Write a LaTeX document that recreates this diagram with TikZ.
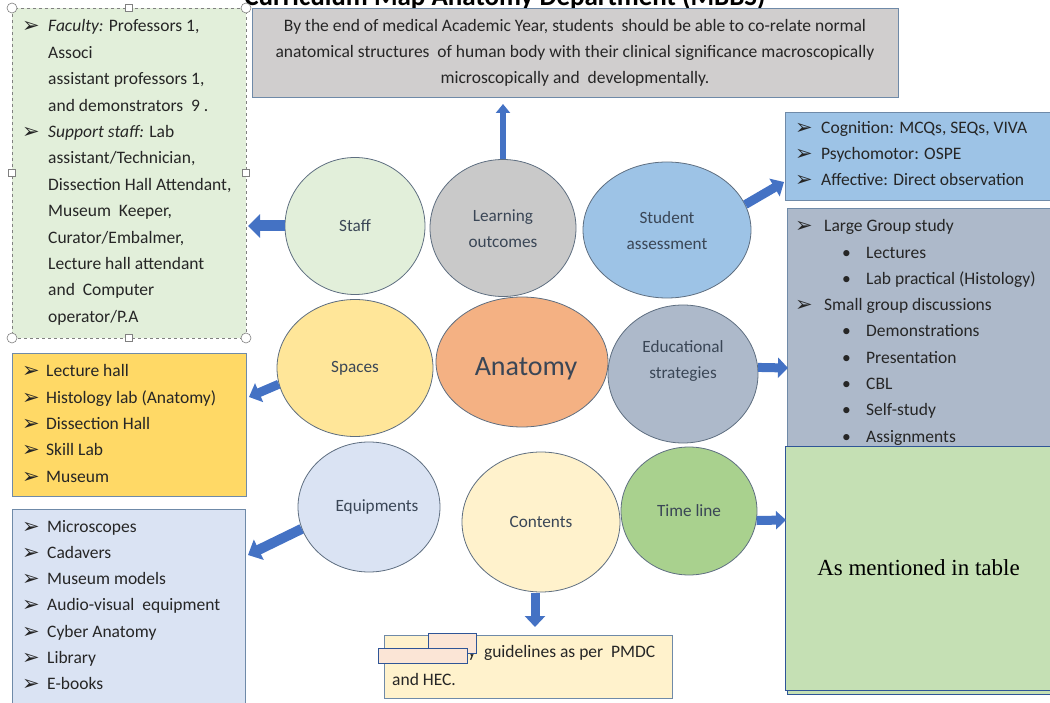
\documentclass[tikz,border=0pt]{standalone}
\usepackage{fontspec}
\setmainfont{Carlito}
\newfontfamily\symfont{DejaVu Sans}
\newfontfamily\tablefont{Liberation Serif}
\usetikzlibrary{shapes.geometric,arrows.meta}

\definecolor{staffgreen}{HTML}{E2EFDA}
\definecolor{logray}{HTML}{D0CECE}
\definecolor{lobubble}{HTML}{C9C9C9}
\definecolor{assessblue}{HTML}{9DC3E6}
\definecolor{spacebubble}{HTML}{FFE699}
\definecolor{spaceyellow}{HTML}{FFD966}
\definecolor{anatomyorange}{HTML}{F4B183}
\definecolor{edugray}{HTML}{ADB9CA}
\definecolor{equipblue}{HTML}{DAE3F3}
\definecolor{contcream}{HTML}{FFF2CC}
\definecolor{timebubble}{HTML}{A9D18E}
\definecolor{timegreen}{HTML}{C5E0B4}
\definecolor{coverpink}{HTML}{FBE5D6}
\definecolor{arrowblue}{HTML}{4472C4}
\definecolor{boxedge}{HTML}{6F8AA8}
\definecolor{deepblue}{HTML}{2F5597}
\definecolor{bubbleedge}{HTML}{5E6E80}
\definecolor{bubbletext}{HTML}{3A4656}
\definecolor{listtext}{HTML}{262626}

\newcommand{\listfont}{\fontsize{17.5}{26}\selectfont}
\newcommand{\bubblefont}{\fontsize{17.2}{26}\selectfont}
\newcommand{\arr}[1][26pt]{\makebox[#1][l]{\symfont\fontsize{21}{21}\selectfont\raisebox{-1pt}{➢}}}
\newcommand{\ind}{\hspace*{26pt}}
\newcommand{\dotb}{\hspace*{47pt}\makebox[24pt][l]{•}}
\newcommand{\lift}[2]{\raisebox{#1}[\height][\depth]{#2}}

\tikzset{
  bubble/.style={ellipse, draw=bubbleedge, line width=0.8pt, inner sep=0pt,
    font=\bubblefont, text=bubbletext, align=center},
  listbox/.style={rectangle, draw=boxedge, line width=0.8pt, inner sep=0pt},
  item/.style={anchor=base west, inner sep=0pt, font=\listfont, text=listtext},
  handle/.style={circle, draw=gray, fill=white, line width=0.6pt, minimum size=10pt, inner sep=0pt},
  sqhandle/.style={rectangle, draw=gray, fill=white, line width=0.6pt, minimum size=7pt, inner sep=0pt},
  blockarrow/.style={draw=arrowblue, line width=11pt, -{Triangle[length=12pt,width=23pt]}},
}

\begin{document}
\begin{tikzpicture}[x=1pt, y=-1pt]
  \useasboundingbox (0,0) rectangle (1050,703);

  \node[anchor=base, inner sep=0pt, font=\bfseries\fontsize{27}{30}\selectfont] (title) at (505,6)
    {Curriculum Map Anatomy Department (MBBS)};

  % boxes
  \node[listbox, fill=logray, minimum width=646, minimum height=89] (lobox) at (575,52.5) {};
  \node[rectangle, draw=gray, dashed, line width=0.7pt, fill=staffgreen,
    minimum width=234, minimum height=330, inner sep=0pt] (staffbox) at (129,173) {};
  \node[listbox, fill=assessblue, minimum width=275, minimum height=88] (assessbox) at (922.5,156) {};
  \node[listbox, fill=edugray, minimum width=273, minimum height=247] (edubox) at (923.5,331.5) {};
  \node[listbox, fill=spaceyellow, minimum width=234, minimum height=143] (spacebox) at (129,424.5) {};
  \node[listbox, fill=equipblue, minimum width=233, minimum height=201] (equipbox) at (128.5,609.5) {};
  \node[listbox, fill=contcream, minimum width=288, minimum height=63] (contbox) at (528,666.5) {};

  % handles of the staff box
  \foreach \hx/\hy [count=\i] in {12/8, 246/8, 12/338, 246/338}
    \node[handle] (hc\i) at (\hx,\hy) {};
  \foreach \hx/\hy [count=\i] in {129/8, 12/173, 246/173, 129/338}
    \node[sqhandle] (hs\i) at (\hx,\hy) {};

  % texts in the boxes
  \node[inner sep=0pt, font=\listfont, text=listtext, align=center, anchor=north] (lotext) at (575,19)
    {By the end of medical Academic Year, students\ \ should be able to co-relate normal\\
     anatomical structures\ \ of human body with their clinical significance macroscopically\\
     microscopically and\ \ developmentally.};

  \foreach \t [count=\i] in {{\arr\textit{Faculty:} Professors 1,}, {\ind Associ}, {\ind assistant professors 1,},
      {\ind and demonstrators\ \ 9 .}, {\arr\textit{Support staff:} Lab}, {\ind assistant/Technician,},
      {\ind Dissection Hall Attendant,}, {\ind Museum\ \ Keeper,}, {\ind Curator/Embalmer,},
      {\ind Lecture hall attendant}, {\ind and\ \ Computer}, {\ind operator/P.A}}
    \node[item] (st\i) at (22,{32+26.4*(\i-1)}) {\t};

  \foreach \t [count=\i] in {Cognition: MCQs{,} SEQs{,} VIVA, Psychomotor: OSPE, Affective: Direct observation}
    \node[item] (as\i) at (795,{134+26*(\i-1)}) {\arr\t};

  \foreach \t [count=\i] in {{\arr[29pt]Large Group study}, {\dotb Lectures}, {\dotb Lab practical (Histology)},
      {\arr[29pt]Small group discussions}, {\dotb Demonstrations}, {\dotb Presentation},
      {\dotb CBL}, {\dotb Self-study}, {\dotb Assignments}}
    \node[item] (ed\i) at (795,{232+26.25*(\i-1)}) {\t};

  \foreach \t [count=\i] in {Lecture hall, Histology lab (Anatomy), Dissection Hall, Skill Lab, Museum}
    \node[item] (sp\i) at (22,{377+26.25*(\i-1)}) {\arr[24pt]\t};

  \foreach \t [count=\i] in {Microscopes, Cadavers, Museum models, Audio-visual\ \ equipment,
      Cyber Anatomy, Library, E-books}
    \node[item] (eq\i) at (22,{532+26.3*(\i-1)}) {\arr[25pt]\t};

  \node[item] (ct1) at (392,657) {\hspace*{76pt}y\ \ guidelines as per\ \ PMDC};
  \node[item] (ct2) at (392,685) {and HEC.};
  \node[rectangle, draw=deepblue, line width=1pt, fill=coverpink, minimum width=48, minimum height=20,
    inner sep=0pt] (cover1) at (452,643) {};
  \node[rectangle, draw=deepblue, line width=1pt, fill=coverpink, minimum width=89, minimum height=15,
    inner sep=0pt] (cover2) at (422.5,655.5) {};

  % time line box
  \node[rectangle, draw=deepblue, line width=0.8pt, fill=timegreen, minimum width=275, minimum height=244,
    inner sep=0pt] (timeshadow) at (924.5,572) {};
  \node[rectangle, draw=deepblue, line width=1pt, fill=timegreen, minimum width=275, minimum height=244,
    inner sep=0pt, font=\tablefont\fontsize{23}{26}\selectfont, text=black] (timebox) at (922.5,568)
    {\hspace*{-8pt}As mentioned in table};

  % bubbles
  \node[bubble, fill=staffgreen, minimum width=140, minimum height=137] (staff) at (355,226) {Staff};
  \node[bubble, fill=lobubble, minimum width=146, minimum height=137] (learn) at (503,228)
    {\lift{-1pt}{Learning}\\\lift{-1pt}{outcomes}};
  \node[bubble, fill=assessblue, minimum width=168, minimum height=136] (assess) at (667,230)
    {\lift{-1pt}{Student}\\\lift{-1pt}{assessment}};
  \node[bubble, fill=spacebubble, minimum width=156, minimum height=137] (spaces) at (355,368) {Spaces};
  \node[bubble, fill=anatomyorange, minimum width=172, minimum height=130,
    font=\fontsize{28}{30}\selectfont] (anatomy) at (522,362) {\hspace*{8pt}\lift{-7pt}{Anatomy}};
  \node[bubble, fill=edugray, minimum width=150, minimum height=138] (edu) at (683,374)
    {\lift{13pt}{Educational}\\\lift{13pt}{strategies}};
  \node[bubble, fill=equipblue, minimum width=142, minimum height=130] (equip) at (369,507) {\hspace*{16pt}Equipments};
  \node[bubble, fill=contcream, minimum width=158, minimum height=140] (contents) at (541,522) {Contents};
  \node[bubble, fill=timebubble, minimum width=136, minimum height=128] (timeline) at (689,511) {Time line};

  % arrows
  \coordinate (stafftip) at (248,226);
  \coordinate (assesstip) at (784,182);
  \coordinate (edutip) at (788,368);
  \coordinate (spacetip) at (249,397);
  \coordinate (equiptip) at (248,555);
  \coordinate (timetip) at (786,520);
  \coordinate (conttip) at (535,627);
  \coordinate (lotip) at (503,104);
  \draw[blockarrow] (staff.west) -- (stafftip);
  \draw[blockarrow, line width=9pt, -{Triangle[length=11pt,width=20pt]}] (assess.18) -- (assesstip);
  \draw[blockarrow, line width=9pt, -{Triangle[length=10pt,width=20pt]}] (edu.5) -- (edutip);
  \draw[blockarrow, line width=9pt, -{Triangle[length=11pt,width=20pt]}] (spaces.192) -- (spacetip);
  \draw[blockarrow, line width=10pt, -{Triangle[length=12pt,width=22pt]}] (equip.198) -- (equiptip);
  \draw[blockarrow, line width=9pt, -{Triangle[length=10pt,width=18pt]}] (timeline.352) -- (timetip);
  \draw[blockarrow, line width=9pt, -{Triangle[length=11pt,width=20pt]}] (535,593) -- (conttip);
  \draw[blockarrow, line width=6pt, -{Triangle[length=9pt,width=14pt]}] (learn.north) -- (lotip);
\end{tikzpicture}
\end{document}
